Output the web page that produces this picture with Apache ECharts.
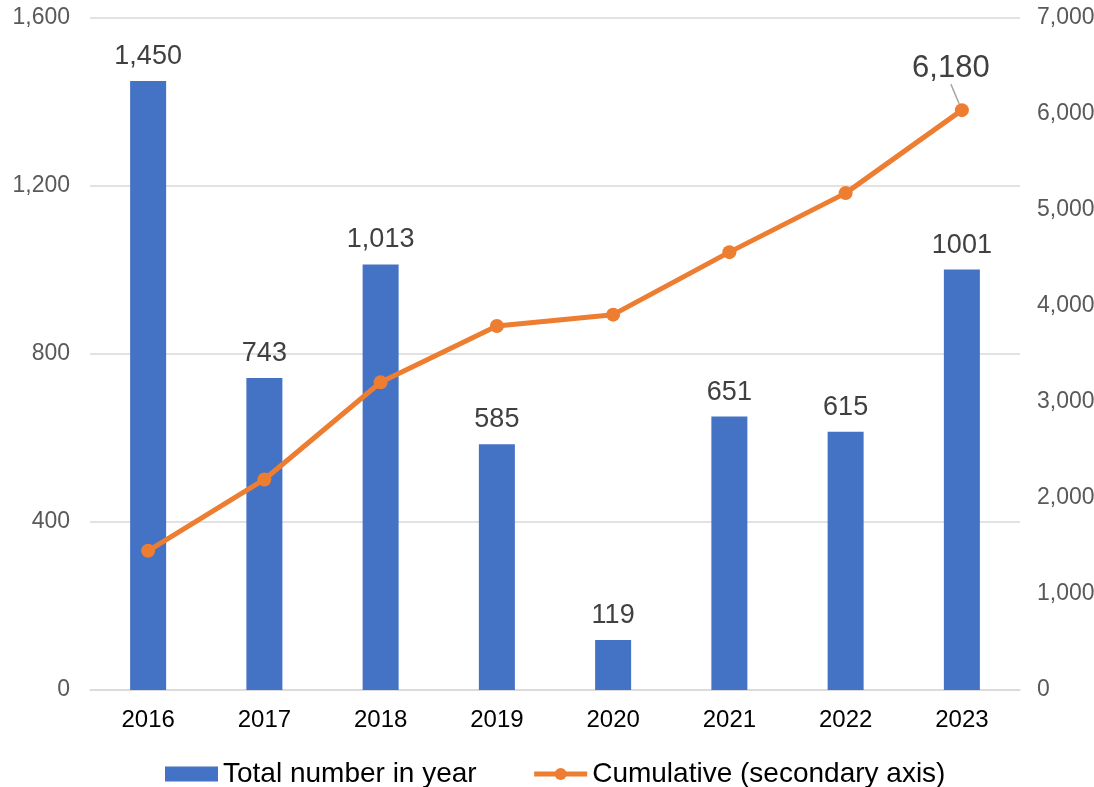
<!DOCTYPE html>
<html>
<head>
<meta charset="utf-8">
<script src="https://cdn.jsdelivr.net/npm/echarts@6/dist/echarts.min.js"></script>
<style>html,body{margin:0;padding:0;background:#fff}#c{width:1094px;height:787px}</style>
</head>
<body>
<div id="c"></div>
<script>
const years = ['2016','2017','2018','2019','2020','2021','2022','2023'];
const totalInYear = [1450, 743, 1013, 585, 119, 651, 615, 1001];
const totalLabels = ['1,450','743','1,013','585','119','651','615','1001'];
const cumulative = [1450, 2193, 3206, 3791, 3910, 4561, 5176, 6040];
const cumulativeLastLabel = '6,180';
const leftTicks = {min: 0, max: 1600, interval: 400};
const rightTicks = {min: 0, max: 7000, interval: 1000};

const chart = echarts.init(document.getElementById('c'));
const fontFamily = '"Liberation Sans", Arial, sans-serif';
chart.setOption({
  animation: false,
  textStyle: {fontFamily},
  grid: {left: 90, right: 74, top: 18, bottom: 97, containLabel: false, outerBoundsMode: 'none'},
  legend: {
    top: 760,
    left: 165,
    padding: 0,
    itemGap: 55,
    itemWidth: 53,
    itemHeight: 15,
    textStyle: {fontSize: 28, color: '#000', fontFamily},
    data: [
      {name: 'Total number in year', icon: 'rect'},
      {name: 'Cumulative (secondary axis)', lineStyle: {width: 5}}
    ]
  },
  xAxis: {
    type: 'category',
    data: years,
    axisTick: {show: false},
    axisLine: {lineStyle: {color: '#d9d9d9', width: 1.5}},
    axisLabel: {fontSize: 24, color: '#000', margin: 18, fontFamily}
  },
  yAxis: [
    {
      type: 'value', min: leftTicks.min, max: leftTicks.max, interval: leftTicks.interval,
      axisLine: {show: false}, axisTick: {show: false},
      splitLine: {lineStyle: {color: '#d9d9d9', width: 1.5}},
      axisLabel: {fontSize: 23, color: '#595959', margin: 20, fontFamily,
        formatter: v => v.toLocaleString('en-US')}
    },
    {
      type: 'value', min: rightTicks.min, max: rightTicks.max, interval: rightTicks.interval,
      axisLine: {show: false}, axisTick: {show: false}, splitLine: {show: false},
      axisLabel: {fontSize: 23, color: '#595959', margin: 17, fontFamily,
        formatter: v => v.toLocaleString('en-US')}
    }
  ],
  series: [
    {
      name: 'Total number in year',
      type: 'bar',
      data: totalInYear,
      barWidth: 36,
      itemStyle: {color: '#4472C4'},
      label: {
        show: true, position: 'top', distance: 11,
        fontSize: 27, color: '#404040', fontFamily,
        formatter: p => totalLabels[p.dataIndex]
      }
    },
    {
      name: 'Cumulative (secondary axis)',
      type: 'line',
      yAxisIndex: 1,
      data: cumulative.map((v, i) => i === cumulative.length - 1 ? {
        value: v,
        label: {show: true, formatter: cumulativeLastLabel, position: 'top', distance: 8,
          fontSize: 31, color: '#404040', fontFamily}
      } : v),
      labelLine: {show: true, lineStyle: {color: '#a6a6a6', width: 1.5}},
      labelLayout: {dx: -11, dy: -11},
      symbol: 'circle',
      symbolSize: 14,
      lineStyle: {color: '#ED7D31', width: 5},
      itemStyle: {color: '#ED7D31'},
      z: 5
    }
  ]
});
</script>
</body>
</html>
